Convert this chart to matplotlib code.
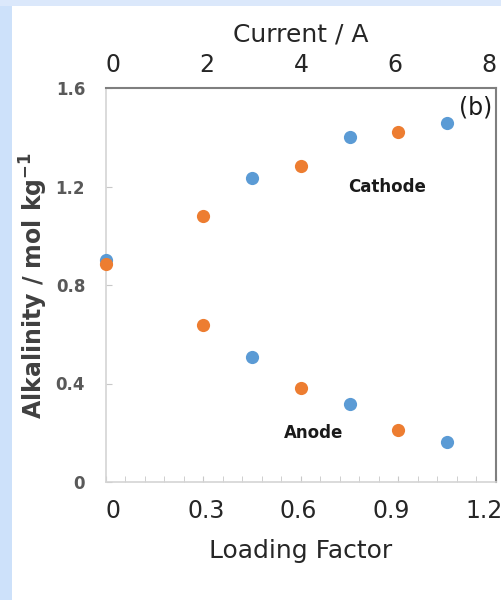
import matplotlib
matplotlib.use('Agg')

import matplotlib.pyplot as plt
from matplotlib.patches import Rectangle

# data
loading_blue = [0.0, 0.45, 0.75, 1.05]
cathode_blue = [0.90, 1.235, 1.40, 1.458]
loading_blue_an = [0.45, 0.75, 1.05]
anode_blue = [0.508, 0.317, 0.162]

loading_orange = [0.0, 0.30, 0.60, 0.90]
cathode_orange = [0.885, 1.08, 1.283, 1.421]
loading_orange_an = [0.30, 0.60, 0.90]
anode_orange = [0.638, 0.382, 0.211]

x_ticks = [0, 0.3, 0.6, 0.9, 1.2]
x_ticklabels = ['0', '0.3', '0.6', '0.9', '1.2']
y_ticks = [0, 0.4, 0.8, 1.2, 1.6]
y_ticklabels = ['0', '0.4', '0.8', '1.2', '1.6']
top_ticks = [0, 2, 4, 6, 8]

blue = '#5b9bd5'
orange = '#ed7d31'
txt = '#262626'

plt.rcParams['font.family'] = ['DejaVu Sans']

fig = plt.figure(figsize=(5.02, 6.0), dpi=100)
fig.patch.set_facecolor('white')
# light blue frame at left and top
fig.patches.append(Rectangle((0, 0), 12 / 502, 1, transform=fig.transFigure,
                             facecolor='#cde1fa', edgecolor='none', zorder=0))
fig.patches.append(Rectangle((0, 1 - 6 / 600), 1, 6 / 600, transform=fig.transFigure,
                             facecolor='#dbe8fb', edgecolor='none', zorder=0))

rect = [106 / 502, 1 - 482 / 600, (496 - 106) / 502, (482 - 88) / 600]
ax = fig.add_axes(rect)
ax.set_xlim(0, 1.2)
ax.set_ylim(0, 1.6)

ms = 9.5
ax.plot(loading_blue, cathode_blue, 'o', color=blue, ms=ms, mec='none', clip_on=False, zorder=3)
ax.plot(loading_blue_an, anode_blue, 'o', color=blue, ms=ms, mec='none', clip_on=False, zorder=3)
ax.plot(loading_orange, cathode_orange, 'o', color=orange, ms=ms, mec='none', clip_on=False, zorder=4)
ax.plot(loading_orange_an, anode_orange, 'o', color=orange, ms=ms, mec='none', clip_on=False, zorder=4)

ax.text(0.864, 1.20, 'Cathode', fontsize=12, fontweight='bold', color='#1a1a1a', ha='center', va='center')
ax.text(0.64, 0.20, 'Anode', fontsize=12, fontweight='bold', color='#1a1a1a', ha='center', va='center')
ax.text(1.19, 1.52, '(b)', fontsize=17, color='#1a1a1a', ha='right', va='center')

for s in ['left', 'bottom']:
    ax.spines[s].set_color('#d4d4d4')
    ax.spines[s].set_linewidth(1.2)
for s in ['top', 'right']:
    ax.spines[s].set_color('#7f7f7f')
    ax.spines[s].set_linewidth(1.5)

ax.set_xticks(x_ticks)
ax.set_xticklabels([])
ax.set_xticks([i * 0.06 for i in range(21)], minor=True)
ax.tick_params(axis='x', which='both', direction='in', length=4, color='#c8c8c8')
ax.set_yticks(y_ticks)
ax.set_yticklabels(y_ticklabels)
ax.tick_params(axis='y', direction='in', length=4, color='#c8c8c8',
               labelsize=12, pad=15, labelcolor='#595959')
for t in ax.get_yticklabels():
    t.set_fontweight('bold')

ax.set_ylabel('Alkalinity / mol kg$^{\\mathregular{-1}}$', fontsize=17, fontweight='bold',
              color='#404040', labelpad=4)

# bottom labels sit slightly inside the axis ends in the reference
bot = fig.add_axes(rect, frameon=False)
bot.set_xlim(-0.0226, 1.2388)
bot.set_xticks(x_ticks)
bot.set_xticklabels(x_ticklabels)
bot.set_yticks([])
bot.tick_params(axis='x', length=0, labelsize=17, pad=12, labelcolor=txt)
bot.set_xlabel('Loading Factor', fontsize=18, color=txt, labelpad=12)
bot.patch.set_visible(False)

top = ax.twiny()
top.set_xlim(-0.15, 8.15)
top.set_xticks(top_ticks)
top.tick_params(axis='x', length=0, labelsize=17, pad=8, labelcolor=txt)
top.set_xlabel('Current / A', fontsize=18, color=txt, labelpad=8)
for s in top.spines.values():
    s.set_visible(False)

fig.savefig('out.png', dpi=100)
